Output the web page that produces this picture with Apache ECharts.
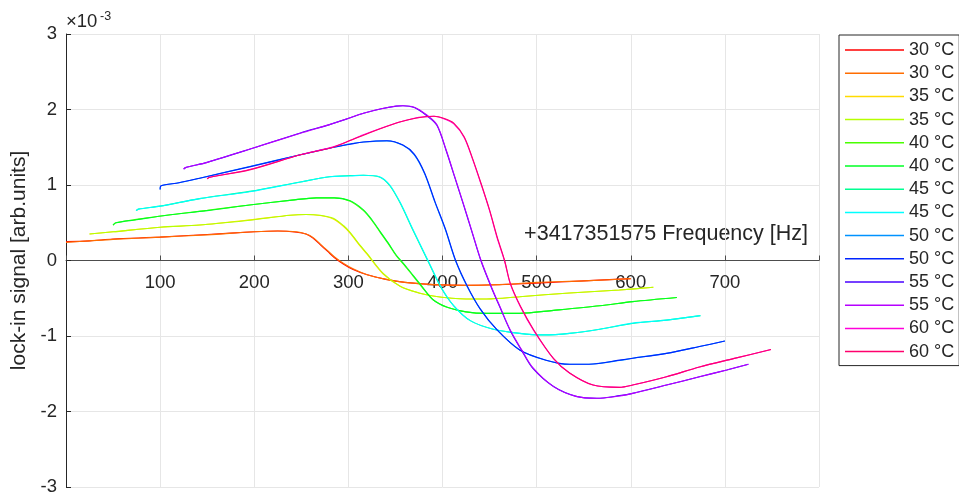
<!DOCTYPE html>
<html>
<head>
<meta charset="utf-8">
<script src="https://cdn.jsdelivr.net/npm/echarts@6/dist/echarts.min.js"></script>
<style>html,body{margin:0;padding:0;background:#fff;}#c{width:959px;height:502px;}</style>
</head>
<body>
<div id="c"></div>
<script>
// Frequency offsets [Hz] and lock-in signal [x1e-3 arb.units]
const x30 = [0, 25, 50, 100, 150, 200, 225, 245, 255, 262, 270, 278, 285, 295, 305, 320, 340, 360, 390, 425, 460, 500, 550, 600];
const y30a = [0.25, 0.26, 0.285, 0.31, 0.345, 0.38, 0.39, 0.375, 0.35, 0.30, 0.21, 0.12, 0.04, -0.05, -0.12, -0.19, -0.25, -0.29, -0.32, -0.33, -0.32, -0.30, -0.27, -0.24];
const y30b = [0.24, 0.26, 0.28, 0.31, 0.34, 0.38, 0.39, 0.38, 0.35, 0.31, 0.22, 0.13, 0.05, -0.04, -0.11, -0.19, -0.25, -0.29, -0.32, -0.33, -0.32, -0.29, -0.27, -0.24];

const x35 = [25, 50, 100, 142, 200, 238, 255, 270, 284, 295, 302, 310, 320, 337, 355, 375, 390, 410, 425, 447, 482, 535, 588, 624];
const y35a = [0.35, 0.38, 0.44, 0.47, 0.545, 0.60, 0.61, 0.595, 0.55, 0.45, 0.36, 0.23, 0.08, -0.18, -0.34, -0.43, -0.47, -0.50, -0.51, -0.51, -0.48, -0.43, -0.39, -0.355];
const y35b = [0.35, 0.38, 0.44, 0.47, 0.54, 0.60, 0.61, 0.60, 0.56, 0.46, 0.37, 0.24, 0.09, -0.17, -0.34, -0.43, -0.47, -0.50, -0.51, -0.51, -0.48, -0.43, -0.39, -0.355];

const x40 = [50, 53, 75, 107, 150, 195, 240, 266, 285, 302, 316, 325, 334, 343, 351, 360, 369, 378, 390, 405, 425, 447, 482, 518, 567, 602, 649];
const y40a = [0.47, 0.50, 0.545, 0.60, 0.665, 0.735, 0.80, 0.83, 0.83, 0.785, 0.66, 0.53, 0.37, 0.21, 0.06, -0.07, -0.21, -0.35, -0.52, -0.62, -0.68, -0.70, -0.70, -0.66, -0.60, -0.545, -0.49];
const y40b = [0.47, 0.50, 0.54, 0.60, 0.66, 0.735, 0.80, 0.83, 0.83, 0.79, 0.67, 0.54, 0.38, 0.22, 0.07, -0.06, -0.20, -0.34, -0.52, -0.62, -0.68, -0.70, -0.70, -0.66, -0.60, -0.545, -0.49];

const x45 = [74.5, 77, 100, 142, 195, 249, 280, 302, 316, 333, 344, 355, 369, 385, 398, 412, 430, 454, 482, 507, 535, 567, 602, 638, 674];
const y45a = [0.66, 0.68, 0.72, 0.82, 0.915, 1.04, 1.11, 1.125, 1.13, 1.105, 0.99, 0.76, 0.39, -0.02, -0.35, -0.60, -0.80, -0.91, -0.965, -0.985, -0.965, -0.91, -0.835, -0.79, -0.73];
const y45b = [0.66, 0.68, 0.72, 0.82, 0.91, 1.04, 1.11, 1.12, 1.13, 1.11, 1.00, 0.77, 0.40, -0.01, -0.34, -0.60, -0.80, -0.91, -0.965, -0.985, -0.965, -0.91, -0.83, -0.79, -0.73];

const x50 = [100, 101, 120, 142, 195, 249, 281, 302, 316, 341, 358, 370, 381, 392, 403, 414, 426, 440, 458, 482, 510, 535, 560, 588, 602, 638, 673, 700];
const y50a = [0.94, 0.99, 1.03, 1.09, 1.245, 1.40, 1.49, 1.545, 1.57, 1.585, 1.525, 1.40, 1.15, 0.77, 0.41, -0.01, -0.34, -0.64, -0.92, -1.185, -1.32, -1.375, -1.37, -1.325, -1.295, -1.23, -1.14, -1.066];
const y50b = [0.94, 0.99, 1.03, 1.09, 1.24, 1.40, 1.49, 1.54, 1.57, 1.587, 1.53, 1.41, 1.16, 0.78, 0.42, 0.0, -0.33, -0.64, -0.92, -1.185, -1.32, -1.375, -1.37, -1.32, -1.295, -1.23, -1.14, -1.066];

const x55 = [125, 127, 150, 199, 249, 280, 302, 316, 335, 351, 358, 370, 383, 394, 404, 413, 422, 431, 441, 452, 461, 472, 484, 496, 518, 542, 564, 588, 602, 638, 673, 702, 725];
const y55a = [1.21, 1.23, 1.30, 1.49, 1.69, 1.80, 1.89, 1.95, 2.01, 2.045, 2.05, 2.025, 1.92, 1.79, 1.45, 1.10, 0.75, 0.39, -0.01, -0.36, -0.62, -0.93, -1.19, -1.43, -1.67, -1.80, -1.825, -1.79, -1.76, -1.65, -1.54, -1.45, -1.375];
const y55b = [1.21, 1.23, 1.30, 1.49, 1.685, 1.80, 1.89, 1.95, 2.01, 2.046, 2.05, 2.03, 1.93, 1.80, 1.46, 1.11, 0.76, 0.40, 0.0, -0.35, -0.61, -0.92, -1.18, -1.42, -1.67, -1.80, -1.825, -1.795, -1.76, -1.65, -1.54, -1.45, -1.375];

const x60 = [150, 152, 195, 249, 281, 298, 316, 351, 370, 382, 391, 402, 412, 423, 432, 441, 450, 458, 466, 472, 483, 497, 518, 535, 560, 588, 602, 638, 673, 709, 749];
const y60a = [1.08, 1.10, 1.205, 1.40, 1.495, 1.57, 1.665, 1.82, 1.885, 1.905, 1.91, 1.875, 1.81, 1.63, 1.34, 1.01, 0.66, 0.30, -0.01, -0.31, -0.62, -0.93, -1.30, -1.49, -1.65, -1.68, -1.65, -1.54, -1.41, -1.30, -1.18];
const y60b = [1.08, 1.10, 1.20, 1.40, 1.49, 1.57, 1.66, 1.82, 1.88, 1.905, 1.91, 1.88, 1.82, 1.64, 1.35, 1.02, 0.67, 0.315, 0.0, -0.30, -0.61, -0.92, -1.30, -1.49, -1.65, -1.68, -1.65, -1.54, -1.41, -1.30, -1.18];

const seriesLabels = ['30 °C', '30 °C', '35 °C', '35 °C', '40 °C', '40 °C', '45 °C', '45 °C', '50 °C', '50 °C', '55 °C', '55 °C', '60 °C', '60 °C'];
const seriesX = [x30, x30, x35, x35, x40, x40, x45, x45, x50, x50, x55, x55, x60, x60];
const seriesY = [y30a, y30b, y35a, y35b, y40a, y40b, y45a, y45b, y50a, y50b, y55a, y55b, y60a, y60b];
const colors = ['#ff0000', '#ff6d00', '#ffdb00', '#b6ff00', '#49ff00', '#00ff24', '#00ff92', '#00ffff', '#0092ff', '#0024ff', '#4900ff', '#b600ff', '#ff00db', '#ff006d'];
const xTicks = [0, 800, 100];
const yTicks = [-3, 3, 1];

const FONT = 'Liberation Sans, Arial, Helvetica, sans-serif';
const TXT = '#262626';
const GRID_TOP = 34, GRID_BOTTOM = 15;
const H = 502;

const names = seriesLabels.map((l, i) => i % 2 === 1 ? l + '\u200b' : l);
const series = names.map((n, i) => ({
  name: n,
  type: 'line',
  symbol: 'none',
  smooth: 0.3,
  color: colors[i],
  lineStyle: { width: 1.1, color: colors[i] },
  data: seriesX[i].map((x, k) => [x, seriesY[i][k]])
}));

// place the x axis on the y = 0 line inside the plot
const plotH = H - GRID_TOP - GRID_BOTTOM;
const zeroOffset = -plotH * (0 - yTicks[0]) / (yTicks[1] - yTicks[0]);

const chart = echarts.init(document.getElementById('c'), null, { renderer: 'canvas' });
chart.setOption({
  animation: false,
  backgroundColor: '#fff',
  textStyle: { fontFamily: FONT },
  grid: { left: 66, right: 140, top: GRID_TOP, bottom: GRID_BOTTOM, containLabel: false, outerBoundsMode: 'none' },
  xAxis: {
    type: 'value', min: xTicks[0], max: xTicks[1], interval: xTicks[2],
    position: 'bottom', offset: zeroOffset,
    axisLine: { show: true, onZero: false, lineStyle: { color: '#4d4d4d', width: 1 } },
    axisTick: { show: true, inside: true, length: 5, lineStyle: { color: '#4d4d4d' } },
    axisLabel: { margin: 13, fontSize: 18.5, color: TXT, fontFamily: FONT,
      formatter: v => (v === 0 || v === 800) ? '' : String(v) },
    splitLine: { show: true, lineStyle: { color: '#e6e6e6', width: 1 } }
  },
  yAxis: {
    type: 'value', min: yTicks[0], max: yTicks[1], interval: yTicks[2],
    name: 'lock-in signal [arb.units]', nameLocation: 'middle', nameGap: 35,
    nameTextStyle: { fontSize: 21, color: TXT, fontFamily: FONT },
    axisLine: { show: true, onZero: false, lineStyle: { color: TXT, width: 1 } },
    axisTick: { show: true, inside: true, length: 5, lineStyle: { color: TXT } },
    axisLabel: { margin: 9, fontSize: 18.5, color: TXT, fontFamily: FONT },
    splitLine: { show: true, lineStyle: { color: '#e6e6e6', width: 1 } }
  },
  legend: {
    orient: 'vertical', left: 839, top: 35,
    data: names,
    icon: 'rect',
    itemWidth: 59, itemHeight: 1.5, itemGap: 5.2,
    padding: [6, 5, 5, 6],
    borderColor: TXT, borderWidth: 1, backgroundColor: '#fff',
    textStyle: { fontSize: 18, color: TXT, fontFamily: FONT, lineHeight: 17 },
    selectedMode: false
  },
  graphic: [
    { type: 'text', x: 66, y: 31, style: { text: '×10', fontSize: 18.5, fill: TXT, fontFamily: FONT, verticalAlign: 'bottom' } },
    { type: 'text', x: 100, y: 23, style: { text: '-3', fontSize: 12.5, fill: TXT, fontFamily: FONT, verticalAlign: 'bottom' } },
    { type: 'text', x: 808, y: 234, style: { text: '+3417351575 Frequency [Hz]', fontSize: 21.5, fill: TXT, fontFamily: FONT, align: 'right', verticalAlign: 'middle' } }
  ],
  series: series
});
</script>
</body>
</html>
